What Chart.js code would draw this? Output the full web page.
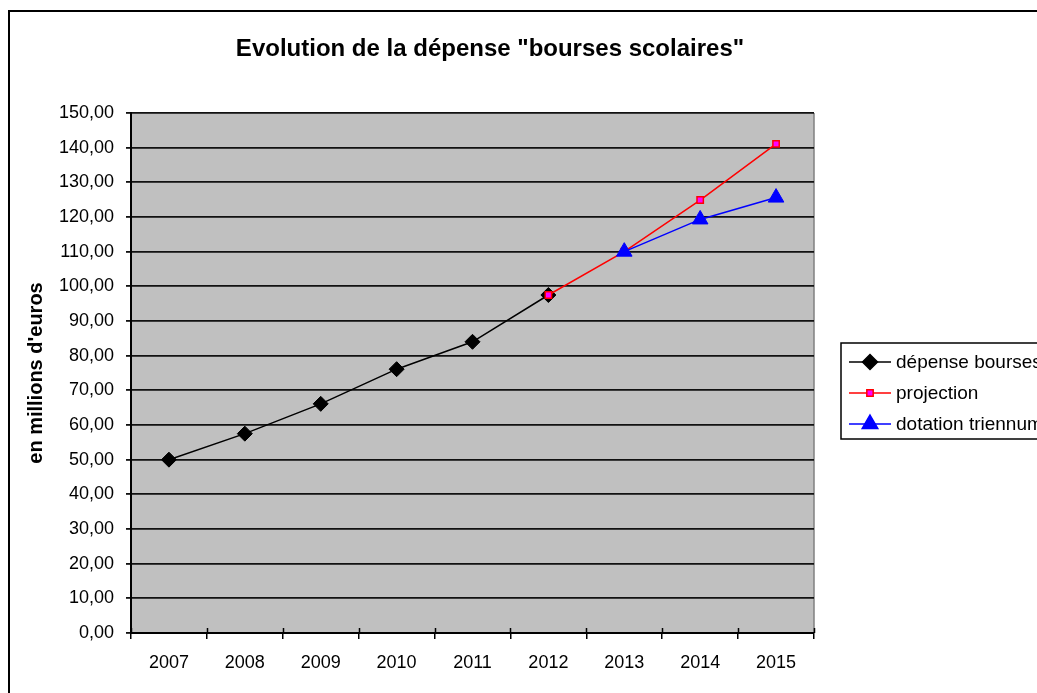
<!DOCTYPE html>
<html>
<head>
<meta charset="utf-8">
<script src="https://cdn.jsdelivr.net/npm/chart.js@4.4.1/dist/chart.umd.min.js"></script>
<style>
  html, body { margin: 0; padding: 0; background: #fff; overflow: hidden; }
  #frame { position: absolute; left: 8px; top: 10px; border: 2px solid #000; background: #fff; }
  canvas { display: block; }
</style>
</head>
<body>
<div id="frame"><canvas id="line-chart" width="1100" height="720"></canvas></div>
<script>
// data
const years = ["2007", "2008", "2009", "2010", "2011", "2012", "2013", "2014", "2015"];
const depense = [50.0, 57.5, 66.1, 76.1, 84.0, 97.5, null, null, null];
const projection = [null, null, null, null, null, 97.5, 110.0, 124.9, 141.1];
const dotation = [null, null, null, null, null, null, 110.0, 119.3, 125.6];
const seriesNames = ["dépense bourses scolaires", "projection", "dotation triennum"];
const chartTitle = 'Evolution de la dépense "bourses scolaires"';
const yTitle = "en millions d'euros";

Chart.defaults.font.family = "'Liberation Sans', Arial, sans-serif";
Chart.defaults.color = "#000";

// gray plot area + right edge
const plotBackground = {
  id: "plotBackground",
  beforeDraw(chart) {
    const { ctx, chartArea: a } = chart;
    ctx.save();
    ctx.fillStyle = "#C0C0C0";
    ctx.fillRect(a.left, a.top, a.right - a.left, a.bottom - a.top);
    ctx.strokeStyle = "#808080";
    ctx.lineWidth = 1.5;
    ctx.beginPath();
    ctx.moveTo(a.right, a.top);
    ctx.lineTo(a.right, a.bottom);
    ctx.stroke();
    ctx.restore();
  },
  // small inner part of the x tick marks (they cross the axis)
  afterDraw(chart) {
    const { ctx, chartArea: a } = chart;
    const xs = chart.scales.x;
    const n = xs.ticks.length;
    ctx.save();
    ctx.strokeStyle = "#000";
    ctx.lineWidth = 1.5;
    for (let i = 0; i <= n; i++) {
      let x;
      if (i === 0) x = a.left;
      else if (i === n) x = a.right;
      else x = (xs.getPixelForTick(i - 1) + xs.getPixelForTick(i)) / 2;
      ctx.beginPath();
      ctx.moveTo(Math.round(x) + 0.5, a.bottom - 5);
      ctx.lineTo(Math.round(x) + 0.5, a.bottom);
      ctx.stroke();
    }
    ctx.restore();
  },
};

// title drawn over the whole chart width
const chartTitlePlugin = {
  id: "chartTitlePlugin",
  afterDraw(chart) {
    const ctx = chart.ctx;
    ctx.save();
    ctx.font = "bold 24px 'Liberation Sans', Arial, sans-serif";
    ctx.fillStyle = "#000";
    ctx.textAlign = "center";
    ctx.textBaseline = "middle";
    ctx.fillText(chartTitle, 480, 37);
    ctx.restore();
  },
};

// excel style legend box on the right
const boxLegend = {
  id: "boxLegend",
  afterDraw(chart) {
    const { ctx, chartArea: a } = chart;
    const left = a.right + 27;
    const top = 331;
    const rowH = 31;
    ctx.save();
    ctx.fillStyle = "#fff";
    ctx.fillRect(left, top, 400, 96);
    ctx.strokeStyle = "#000";
    ctx.lineWidth = 1.5;
    ctx.strokeRect(left, top, 400, 96);
    ctx.font = "19px 'Liberation Sans', Arial, sans-serif";
    ctx.textBaseline = "middle";
    chart.data.datasets.forEach((ds, i) => {
      const y = top + 19 + i * rowH;
      ctx.strokeStyle = ds.borderColor;
      ctx.lineWidth = 1.5;
      ctx.beginPath();
      ctx.moveTo(left + 8, y);
      ctx.lineTo(left + 50, y);
      ctx.stroke();
      ctx.fillStyle = ds.pointBackgroundColor;
      ctx.strokeStyle = ds.pointBorderColor;
      Chart.helpers.drawPoint(ctx, {
        pointStyle: ds.pointStyle,
        radius: ds.pointRadius,
        rotation: 0,
        borderWidth: ds.pointBorderWidth,
      }, left + 29, y);
      ctx.fillStyle = "#000";
      ctx.textAlign = "left";
      ctx.fillText(ds.label, left + 55, y + 1);
    });
    ctx.restore();
  },
};

const config = {
  type: "line",
  data: {
    labels: years,
    datasets: [
      {
        label: seriesNames[0],
        data: depense,
        borderColor: "#000",
        borderWidth: 1.5,
        pointStyle: "rectRot",
        pointRadius: 7.5,
        pointBackgroundColor: "#000",
        pointBorderColor: "#000",
        pointBorderWidth: 1,
        order: 3,
      },
      {
        label: seriesNames[1],
        data: projection,
        borderColor: "#FF0000",
        borderWidth: 1.5,
        pointStyle: "rect",
        pointRadius: 4.5,
        pointBackgroundColor: "#FF00FF",
        pointBorderColor: "#FF0000",
        pointBorderWidth: 1.5,
        order: 2,
      },
      {
        label: seriesNames[2],
        data: dotation,
        borderColor: "#0000FF",
        borderWidth: 1.5,
        pointStyle: "triangle",
        pointRadius: 9,
        pointBackgroundColor: "#0000FF",
        pointBorderColor: "#0000FF",
        pointBorderWidth: 1,
        order: 1,
      },
    ],
  },
  options: {
    responsive: false,
    animation: false,
    events: [],
    layout: {
      padding: { left: 0, top: 101, right: 296, bottom: 0 },
    },
    plugins: {
      legend: { display: false },
      title: { display: false },
      tooltip: { enabled: false },
    },
    elements: {
      line: { tension: 0 },
    },
    scales: {
      x: {
        offset: true,
        grid: {
          offset: true,
          drawOnChartArea: false,
          drawTicks: true,
          tickLength: 6,
          color: "#000",
          lineWidth: 1.5,
        },
        border: { display: true, color: "#000", width: 2 },
        ticks: {
          font: { size: 18 },
          padding: 13,
          maxRotation: 0,
          autoSkip: false,
        },
        afterFit(scale) {
          scale.height = 99;
        },
      },
      y: {
        min: 0,
        max: 150,
        grid: {
          color: "#111",
          lineWidth: 1.8,
          drawTicks: true,
          tickLength: 5,
        },
        border: { display: true, color: "#000", width: 2 },
        ticks: {
          stepSize: 10,
          font: { size: 18 },
          padding: 12,
          callback: (v) => v.toFixed(2).replace(".", ","),
        },
        title: {
          display: true,
          text: yTitle,
          font: { size: 20, weight: "bold" },
          padding: { top: 14, bottom: 0 },
        },
        afterFit(scale) {
          scale.width = 121;
        },
      },
    },
  },
  plugins: [plotBackground, chartTitlePlugin, boxLegend],
};

// draw chart
const chart = new Chart(document.getElementById("line-chart"), config);
</script>
</body>
</html>
